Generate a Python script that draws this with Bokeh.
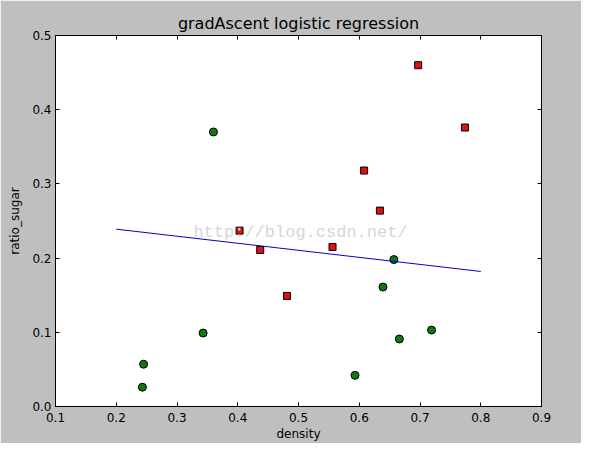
from bokeh.plotting import figure
from bokeh.models import FixedTicker, PrintfTickFormatter, LinearAxis, Label, Range1d
from bokeh.embed import file_html
from bokeh.resources import INLINE

# good melons (red squares)
good_density = [0.697, 0.774, 0.634, 0.608, 0.556, 0.403, 0.481, 0.437]
good_sugar = [0.460, 0.376, 0.264, 0.318, 0.215, 0.237, 0.149, 0.211]
# bad melons (green circles)
bad_density = [0.666, 0.243, 0.245, 0.343, 0.639, 0.657, 0.360, 0.593, 0.719]
bad_sugar = [0.091, 0.026, 0.057, 0.099, 0.161, 0.198, 0.370, 0.042, 0.103]
# decision boundary
line_x = [0.2, 0.8]
line_y = [0.239, 0.182]

x_ticks = [0.1, 0.2, 0.3, 0.4, 0.5, 0.6, 0.7, 0.8, 0.9]
y_ticks = [0.0, 0.1, 0.2, 0.3, 0.4, 0.5]

FONT = "DejaVu Sans"

p = figure(width=581, height=443, output_backend="svg", toolbar_location=None,
           x_range=Range1d(0.1, 0.9), y_range=Range1d(0.0, 0.5),
           min_border_left=55, min_border_right=40, min_border_top=35, min_border_bottom=36,
           title="gradAscent logistic regression")
p.border_fill_color = "#bfbfbf"
p.background_fill_color = "white"
p.outline_line_color = "black"
p.outline_line_width = 1
p.grid.visible = False

p.title.text_font = FONT
p.title.text_font_size = "16px"
p.title.text_font_style = "normal"
p.title.align = "center"
p.title.text_color = "black"
p.title.offset = 0
p.title.standoff = 6

for ax in (p.xaxis[0], p.yaxis[0]):
    ax.major_tick_in = 4
    ax.major_tick_out = 0
    ax.minor_tick_line_color = None
    ax.axis_line_color = "black"
    ax.major_tick_line_color = "black"
    ax.major_label_text_font = FONT
    ax.major_label_text_font_size = "12px"
    ax.major_label_text_color = "black"
    ax.axis_label_text_font = FONT
    ax.axis_label_text_font_size = "12px"
    ax.axis_label_text_font_style = "normal"
    ax.axis_label_text_color = "black"
    ax.formatter = PrintfTickFormatter(format="%.1f")

p.xaxis[0].ticker = FixedTicker(ticks=x_ticks)
p.yaxis[0].ticker = FixedTicker(ticks=y_ticks)
p.xaxis[0].axis_label = "density"
p.yaxis[0].axis_label = "ratio_sugar"
p.xaxis[0].major_label_standoff = 6
p.yaxis[0].major_label_standoff = 4
p.xaxis[0].axis_label_standoff = 2
p.yaxis[0].axis_label_standoff = 7

top = LinearAxis(ticker=FixedTicker(ticks=x_ticks), major_label_text_font_size="0px",
                 major_label_text_color=None,
                 major_tick_in=4, major_tick_out=0, minor_tick_line_color=None,
                 axis_line_color="black", major_label_standoff=0)
right = LinearAxis(ticker=FixedTicker(ticks=y_ticks), major_label_text_font_size="0px",
                   major_label_text_color=None,
                   major_tick_in=4, major_tick_out=0, minor_tick_line_color=None,
                   axis_line_color="black", major_label_standoff=0)
p.add_layout(top, "above")
p.add_layout(right, "right")

wm = Label(x=245, y=174, x_units="screen", y_units="screen", text="http://blog.csdn.net/",
           text_font="Liberation Mono", text_font_size="17px", text_color="#d6d6d6",
           text_align="center", text_baseline="middle")
p.add_layout(wm)

p.scatter(good_density, good_sugar, marker="square", size=7, fill_color="#dd1111",
          line_color="black", line_width=1)
p.scatter(bad_density, bad_sugar, marker="circle", size=8, fill_color="#117711",
          line_color="black", line_width=1)
p.line(line_x, line_y, line_color="#0000cc", line_width=1)

open("out.html", "w").write(file_html(p, INLINE))
